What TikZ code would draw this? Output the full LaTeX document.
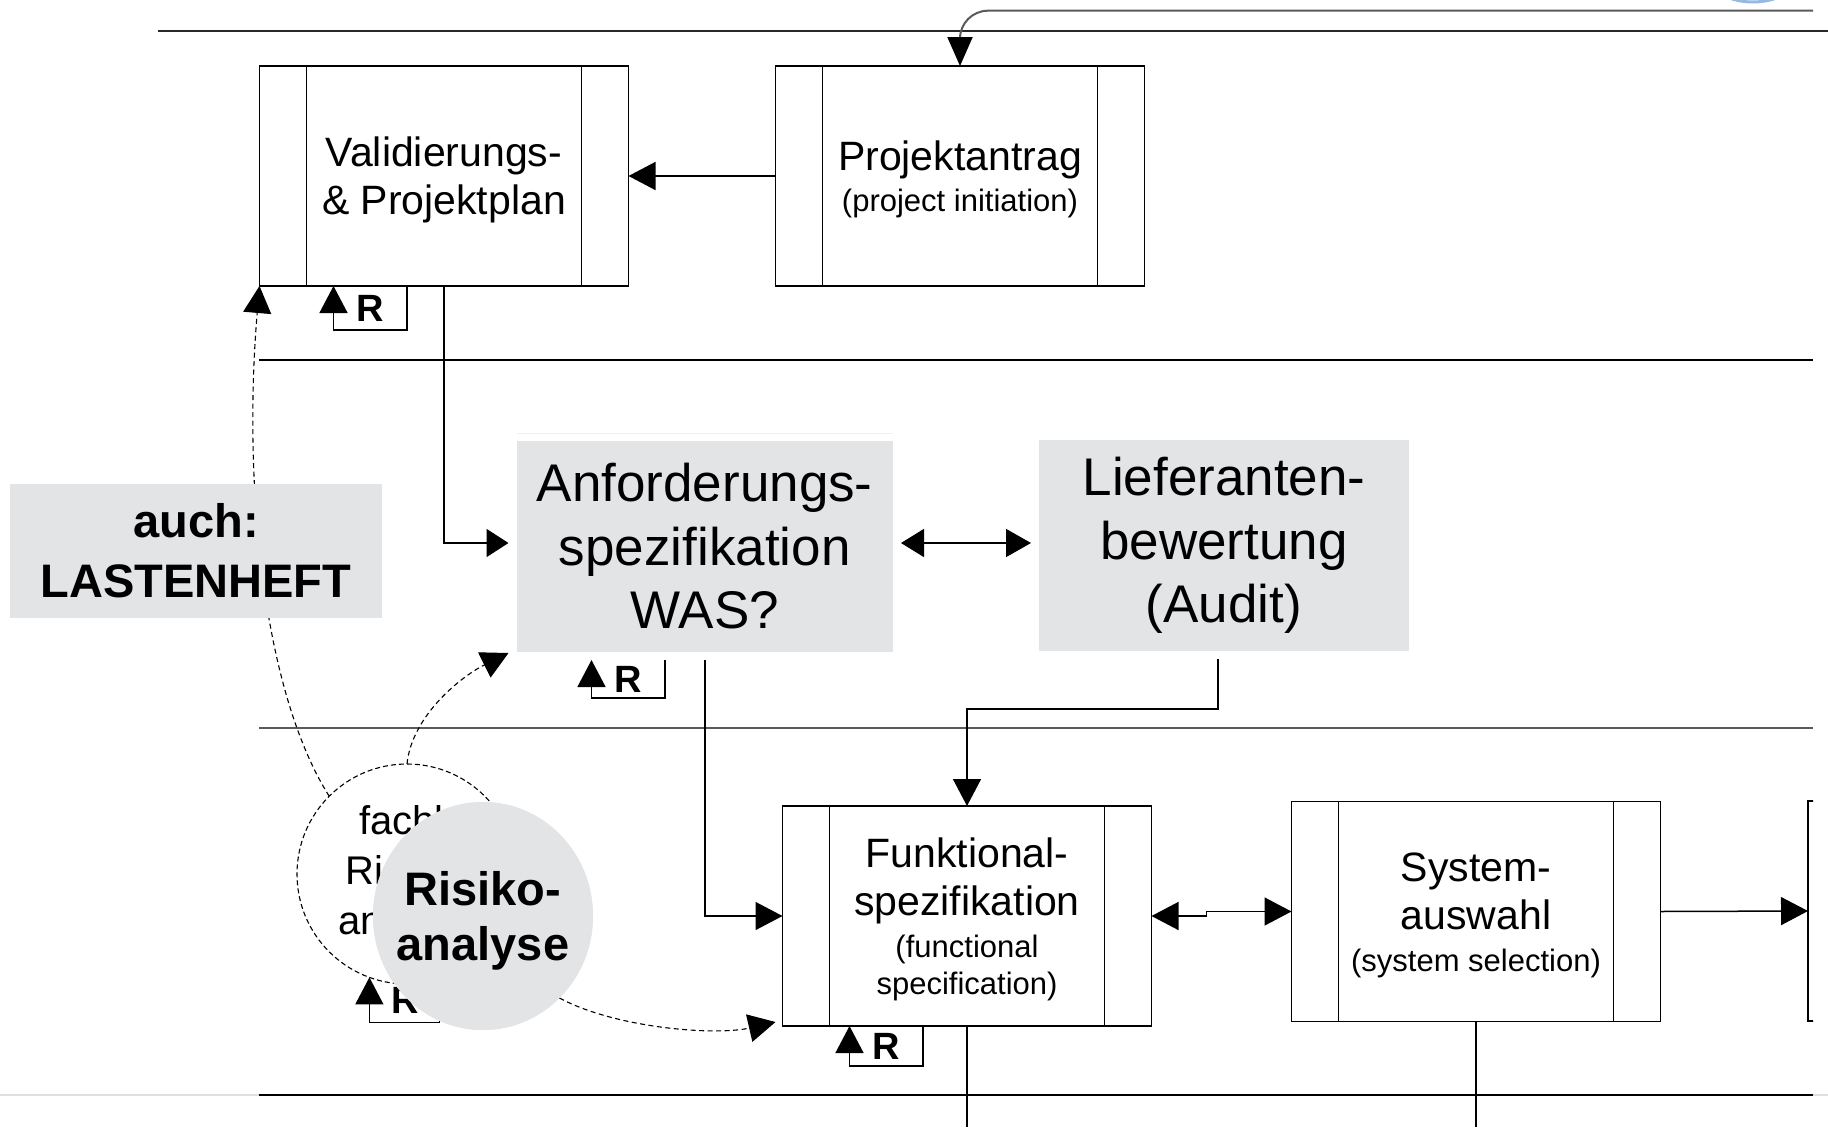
\documentclass[tikz,border=0pt]{standalone}
\usepackage{fontspec}
\setmainfont{Liberation Sans}
\usetikzlibrary{arrows.meta,shapes.geometric}
\definecolor{boxgray}{RGB}{227,228,230}
\definecolor{lanegray}{RGB}{90,90,90}
\definecolor{logoblue}{RGB}{150,185,225}
\newcommand\smallfs{\fontsize{31}{37}\selectfont}
\newcommand\topstrut{\rule{0pt}{37pt}}
\begin{document}
\begin{tikzpicture}[x=1pt,y=-1pt,
  every node/.style={inner sep=0pt, outer sep=0pt},
  line/.style={line width=1.5pt, black},
  arr/.style={line, -{Triangle[length=27pt,width=28pt]}},
  arrs/.style={line, -{Triangle[length=22pt,width=28pt]}},
  dbl/.style={line, {Triangle[length=27pt,width=28pt]}-{Triangle[length=27pt,width=28pt]}},
  dashedarr/.style={line width=1.1pt, dash pattern=on 5pt off 3.5pt, -{Triangle[length=27pt,width=28pt]}},
  lane/.style={line width=1.5pt},
  proc/.style={draw, line width=1.5pt, minimum width=369pt, minimum height=220pt,
    align=center, font=\fontsize{41}{48}\selectfont,
    path picture={
      \draw[line width=1.5pt] ([xshift=47pt]path picture bounding box.north west) -- ([xshift=47pt]path picture bounding box.south west);
      \draw[line width=1.5pt] ([xshift=-47pt]path picture bounding box.north east) -- ([xshift=-47pt]path picture bounding box.south east);}},
  grayblock/.style={fill=boxgray, minimum height=211pt, outer sep=8pt, align=center,
    font=\fontsize{53}{63.5}\selectfont},
  rmark/.style={font=\bfseries\fontsize{38}{38}\selectfont},
]
\path[use as bounding box, fill=white] (0,0) rectangle (1828,1127);

% logo fragment at the top edge
\draw[logoblue, line width=3pt] (1753,-70) circle (72pt);

% swimlane separators
\draw[lane, color={rgb,255:red,40;green,40;blue,40}] (158,31) -- (1828,31);
\draw[lane] (259,360) -- (1813,360);
\draw[line width=2.2pt, color=lanegray] (259,728) -- (1813,728);
\draw[line width=1.2pt, gray!25] (0,1095) -- (1828,1095);
\draw[lane] (259,1095) -- (1813,1095);

% process boxes
\node[proc] (val) at (444,176) {\topstrut Validierungs-\\\& Projektplan};
\node[proc] (proj) at (960,176) {\topstrut Projektantrag\\[-7pt]{\smallfs (project initiation)}};
\node[proc] (fkt) at (967,916) {\topstrut Funktional-\\spezifikation\\[-6pt]{\smallfs (functional}\\[-11.3pt]{\smallfs specification)}};
\node[proc] (sys) at (1476,911.5) {\topstrut System-\\auswahl\\[-6pt]{\smallfs (system selection)}};
\begin{scope}
  \clip (1700,700) rectangle (1813,1100);
  \node[proc] (nxt) at (1992.5,911) {};
\end{scope}

% document blocks
\node[grayblock, minimum width=376.5pt] (anf) at (704.75,546.5) {Anforderungs-\\spezifikation\\WAS?};
\node[grayblock, minimum width=370pt] (lief) at (1224,545.5) {Lieferanten-\\bewertung\\(Audit)};
\draw[gray!12, line width=1pt] ([xshift=8pt]anf.north west) -- ([xshift=-8pt]anf.north east);

% technical risk analysis (dashed)
\node[circle, draw, line width=1.1pt, dash pattern=on 5pt off 3pt, minimum size=220pt,
  align=center, font=\fontsize{40}{50}\selectfont] (dc) at (407,874) {fachl.\\Risiko-\\analyse};

% flow connectors
\coordinate (loopin) at (1813,10.7);
\draw[line width=2pt, color=lanegray, rounded corners=28pt,
  -{Triangle[length=29pt,width=25pt,color=black]}] (loopin) -| (proj.north);
\draw[arr] (proj.west) -- (val.east);
\draw[arrs] (val.south) |- ([yshift=3.5pt]anf.west);
\draw[line, {Triangle[length=23pt,width=28pt]}-{Triangle[length=25pt,width=28pt]}]
  ([yshift=3.5pt]anf.east) -- ([yshift=2.5pt]lief.west);
\draw[arr] (anf.south) |- (fkt.west);
\draw[arr] ([xshift=-6pt]lief.south) -- ++(0,50) -| (fkt.north);
\draw[dbl] (fkt.east) -- ++(55,0) |- (sys.west);
\draw[arr] (sys.east) -- (nxt.west);
\coordinate (fktout) at (967,1127);
\coordinate (sysout) at (1476,1127);
\draw[line] (fkt.south) -- (fktout);
\draw[line] (sys.south) -- (sysout);

% review loops
\draw[arr] ([xshift=147.3pt]val.south west) -- ++(0,44) -| ([xshift=74pt]val.south west);
\node[rmark] (rval) at (370.5,308.5) {R};
\draw[arr] ([xshift=156.5pt]anf.south west) -- ++(0,38) -| ([xshift=83pt]anf.south west);
\node[rmark] (ranf) at (628,679) {R};
\draw[arr] ([xshift=140.3pt]fkt.south west) -- ++(0,40) -| ([xshift=67pt]fkt.south west);
\node[rmark] (rfkt) at (886,1046) {R};
\draw[arr] ([xshift=70pt]dc.250) -- ++(0,45) -| (dc.250);
\node[rmark] (rdc) at (405,1000) {R};

% risk analysis feeds
\draw[dashedarr] (dc.135) .. controls (262,690) and (243,480) .. (val.south west);
\draw[dashedarr] (dc.north) .. controls (412,715) and (462,676) .. ([yshift=7pt]anf.south west);

% note block
\node[fill=boxgray, minimum width=372pt, minimum height=134pt, align=center,
  font=\bfseries\fontsize{47}{60}\selectfont] (lh) at (196,551) {auch:\\LASTENHEFT};

% risk analysis
\node[ellipse, fill=boxgray, minimum width=220pt, minimum height=228pt] (risk) at (483,916) {};
\draw[dashedarr] (risk.-47) .. controls (615,1028) and (715,1036) .. ([xshift=-7pt,yshift=4pt]fkt.south west);
\fill[boxgray] (risk) ellipse (110pt and 114pt);
\node[align=center, font=\bfseries\fontsize{47}{55}\selectfont, text depth=0pt] (risktxt) at (risk) {Risiko-\\analyse};
\end{tikzpicture}
\end{document}
